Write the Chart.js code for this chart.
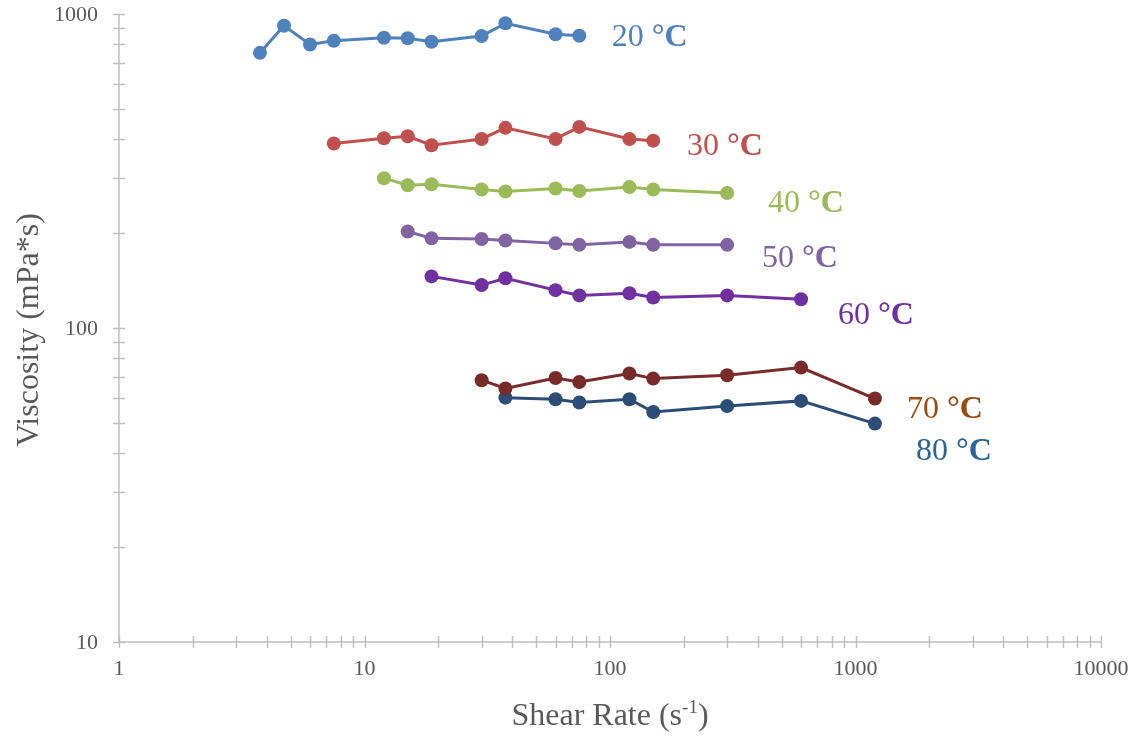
<!DOCTYPE html>
<html>
<head>
<meta charset="utf-8">
<script src="https://cdn.jsdelivr.net/npm/chart.js@4.4.1/dist/chart.umd.min.js"></script>
<style>
  html, body { margin: 0; padding: 0; background: #ffffff; }
  #wrap { width: 1140px; height: 736px; position: relative; }
</style>
</head>
<body>
<div id="wrap"><canvas id="c" width="1140" height="736"></canvas></div>
<script>
// ---- data ----
const shear20 = [3.75, 4.7, 6, 7.5, 12, 15, 18.75, 30, 37.5, 60, 75];
const visc20  = [752, 917, 800, 822, 840, 837, 816, 851, 934, 862, 853];
const shear30 = [7.5, 12, 15, 18.75, 30, 37.5, 60, 75, 120, 150];
const visc30  = [387, 402, 408, 382, 400, 434, 400, 437, 400, 395];
const shear40 = [12, 15, 18.75, 30, 37.5, 60, 75, 120, 150, 300];
const visc40  = [300, 285, 287, 276, 272, 278, 273, 281, 276, 269];
const shear50 = [15, 18.75, 30, 37.5, 60, 75, 120, 150, 300];
const visc50  = [203, 193, 192, 190, 186, 184, 188, 184, 184];
const shear60 = [18.75, 30, 37.5, 60, 75, 120, 150, 300, 600];
const visc60  = [146, 137, 144, 132, 127, 129, 125, 127, 123.5];
const shear70 = [30, 37.5, 60, 75, 120, 150, 300, 600, 1200];
const visc70  = [68.2, 64.2, 69.3, 67.3, 71.6, 69, 70.7, 74.8, 59.6];
const shear80 = [37.5, 60, 75, 120, 150, 300, 600, 1200];
const visc80  = [60, 59.3, 57.9, 59.3, 54, 56.4, 58.6, 49.6];

const seriesNames = ['20 °C', '30 °C', '40 °C', '50 °C', '60 °C', '70 °C', '80 °C'];
const xTickLabels = [1, 10, 100, 1000, 10000];
const yTickLabels = [10, 100, 1000];
// label anchors (data coordinates: left edge x, baseline y)
const labelAnchorX = [101.6, 205.9, 440, 416, 848.6, 1621, 1764];
const labelAnchorY = [791, 355.6, 234, 156.4, 103, 51.7, 38.0];

const xTitle = 'Shear Rate (s';
const xTitleSup = '-1';
const yTitle = 'Viscosity (mPa*s)';

// ---- styles ----
const lineColors  = ['#4F81BD', '#C0504D', '#9BBB59', '#8064A2', '#7030A0', '#772C2A', '#2C4D75'];
const labelColors = ['#4F81BD', '#C0504D', '#9BBB59', '#8064A2', '#7030A0', '#9C4A12', '#2A6399'];
const FONT = '"Liberation Serif", "Times New Roman", serif';
const AXIS_COLOR = '#BFBFBF';
const TEXT_COLOR = '#595959';

const shears = [shear20, shear30, shear40, shear50, shear60, shear70, shear80];
const viscs  = [visc20, visc30, visc40, visc50, visc60, visc70, visc80];

const datasets = shears.map((sx, i) => ({
  label: seriesNames[i],
  data: sx.map((x, j) => ({ x: x, y: viscs[i][j] })),
  showLine: true,
  borderColor: lineColors[i],
  backgroundColor: lineColors[i],
  borderWidth: 3,
  pointRadius: 7,
  pointHoverRadius: 7,
  pointBorderWidth: 0,
  tension: 0
}));

const decor = {
  id: 'decor',
  afterDraw(chart) {
    const ctx = chart.ctx;
    const xs = chart.scales.x, ys = chart.scales.y;
    const a = chart.chartArea;
    ctx.save();
    // axis lines
    ctx.strokeStyle = AXIS_COLOR;
    ctx.lineWidth = 1.5;
    ctx.beginPath();
    ctx.moveTo(a.left, a.top); ctx.lineTo(a.left, a.bottom);
    ctx.moveTo(a.left, a.bottom); ctx.lineTo(a.right, a.bottom);
    ctx.stroke();
    // ticks (major + minor) crossing the axes
    ctx.beginPath();
    for (let d = 0; d < xTickLabels.length; d++) {
      const base = xTickLabels[d];
      const mults = d < xTickLabels.length - 1 ? [1,2,3,4,5,6,7,8,9] : [1];
      mults.forEach(m => {
        const px = Math.round(xs.getPixelForValue(base * m)) + 0.5;
        ctx.moveTo(px, a.bottom - 6); ctx.lineTo(px, a.bottom + 6);
      });
    }
    for (let d = 0; d < yTickLabels.length; d++) {
      const base = yTickLabels[d];
      const mults = d < yTickLabels.length - 1 ? [1,2,3,4,5,6,7,8,9] : [1];
      mults.forEach(m => {
        const py = Math.round(ys.getPixelForValue(base * m)) + 0.5;
        ctx.moveTo(a.left - 6, py); ctx.lineTo(a.left + 6, py);
      });
    }
    ctx.stroke();
    // tick labels
    ctx.fillStyle = TEXT_COLOR;
    ctx.font = '22px ' + FONT;
    ctx.textAlign = 'center';
    ctx.textBaseline = 'middle';
    xTickLabels.forEach(v => {
      ctx.fillText(String(v), xs.getPixelForValue(v), a.bottom + 27);
    });
    ctx.textAlign = 'right';
    yTickLabels.forEach(v => {
      ctx.fillText(String(v), a.left - 21, ys.getPixelForValue(v) + 1);
    });
    // axis titles
    ctx.font = '32px ' + FONT;
    ctx.textBaseline = 'alphabetic';
    const mainW = ctx.measureText(xTitle).width;
    ctx.font = '19px ' + FONT;
    const supW = ctx.measureText(xTitleSup).width;
    ctx.font = '32px ' + FONT;
    const closeW = ctx.measureText(')').width;
    const totalW = mainW + supW + closeW;
    let tx = (a.left + a.right) / 2 - totalW / 2;
    const tBase = a.bottom + 83;
    ctx.textAlign = 'left';
    ctx.fillText(xTitle, tx, tBase);
    ctx.font = '19px ' + FONT;
    ctx.fillText(xTitleSup, tx + mainW, tBase - 12);
    ctx.font = '32px ' + FONT;
    ctx.fillText(')', tx + mainW + supW, tBase);
    ctx.save();
    ctx.translate(a.left - 81, (a.top + a.bottom) / 2 + 2);
    ctx.rotate(-Math.PI / 2);
    ctx.textAlign = 'center';
    ctx.fillText(yTitle, 0, 0);
    ctx.restore();
    // series labels
    seriesNames.forEach((name, i) => {
      const px = xs.getPixelForValue(labelAnchorX[i]);
      const py = ys.getPixelForValue(labelAnchorY[i]);
      const parts = name.split(' ');
      ctx.fillStyle = labelColors[i];
      ctx.textAlign = 'left';
      ctx.textBaseline = 'alphabetic';
      ctx.font = '32px ' + FONT;
      const numTxt = parts[0] + ' ';
      ctx.fillText(numTxt, px, py);
      const w = ctx.measureText(numTxt).width;
      ctx.font = 'bold 32px ' + FONT;
      ctx.fillText(parts[1], px + w, py);
    });
    ctx.restore();
  }
};

new Chart(document.getElementById('c'), {
  type: 'scatter',
  data: { datasets: datasets },
  options: {
    responsive: false,
    animation: false,
    events: [],
    layout: { padding: { left: 119, top: 14, right: 39, bottom: 94 } },
    plugins: { legend: { display: false }, tooltip: { enabled: false } },
    scales: {
      x: {
        type: 'logarithmic', min: 1, max: 10000,
        grid: { display: false }, border: { display: false },
        ticks: { display: false },
        afterFit(s) { s.height = 0; }
      },
      y: {
        type: 'logarithmic', min: 10, max: 1000,
        grid: { display: false }, border: { display: false },
        ticks: { display: false },
        afterFit(s) { s.width = 0; }
      }
    }
  },
  plugins: [decor]
});
</script>
</body>
</html>
